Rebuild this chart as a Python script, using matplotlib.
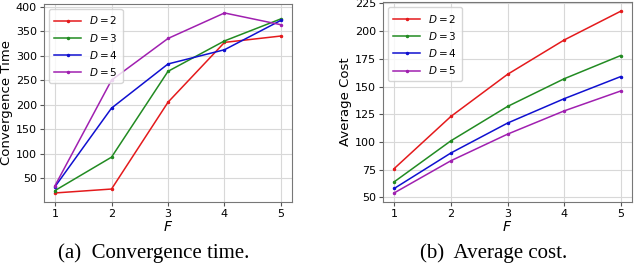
import matplotlib
matplotlib.use("Agg")
import matplotlib.pyplot as plt

F = [1, 2, 3, 4, 5]
labels = [r"$D=2$", r"$D=3$", r"$D=4$", r"$D=5$"]
colors = ["#e41a1c", "#228b22", "#1010d0", "#a020b0"]

conv_time = [
    [20, 28, 205, 327, 340],
    [25, 93, 268, 330, 375],
    [33, 193, 283, 312, 372],
    [35, 250, 335, 387, 363],
]
avg_cost = [
    [76, 123, 161, 192, 218],
    [64, 101, 132, 157, 178],
    [58, 90, 117, 139, 159],
    [54, 83, 107, 128, 146],
]

fig = plt.figure(figsize=(6.34, 2.64), dpi=100)
ax1 = fig.add_axes([0.069, 0.235, 0.392, 0.75])
ax2 = fig.add_axes([0.604, 0.235, 0.393, 0.757])


def draw(ax, data, ylabel, yticks):
    for vals, lab, c in zip(data, labels, colors):
        ax.plot(F, vals, color=c, marker=".", markersize=3, linewidth=1.1, label=lab)
    ax.grid(True, color="#d8d8d8", linewidth=0.8)
    ax.set_axisbelow(True)
    ax.set_xticks(F)
    ax.set_yticks(yticks)
    ax.tick_params(labelsize=8, length=3, pad=2, color="#555555")
    for s in ax.spines.values():
        s.set_color("#777777")
    ax.set_xlabel(r"$F$", fontsize=10, labelpad=1)
    ax.set_ylabel(ylabel, fontsize=9.5, labelpad=2)
    ax.legend(loc="upper left", fontsize=7.5, handlelength=2.6, labelspacing=0.5,
              borderpad=0.5, handletextpad=0.7, fancybox=True)


draw(ax1, conv_time, "Convergence Time", [50, 100, 150, 200, 250, 300, 350, 400])
draw(ax2, avg_cost, "Average Cost", [50, 75, 100, 125, 150, 175, 200, 225])

fig.text(0.243, 0.024, "(a)  Convergence time.", family="Liberation Serif", fontsize=15,
         ha="center", va="baseline")
fig.text(0.779, 0.024, "(b)  Average cost.", family="Liberation Serif", fontsize=15,
         ha="center", va="baseline")

fig.savefig("out.png", dpi=100)
